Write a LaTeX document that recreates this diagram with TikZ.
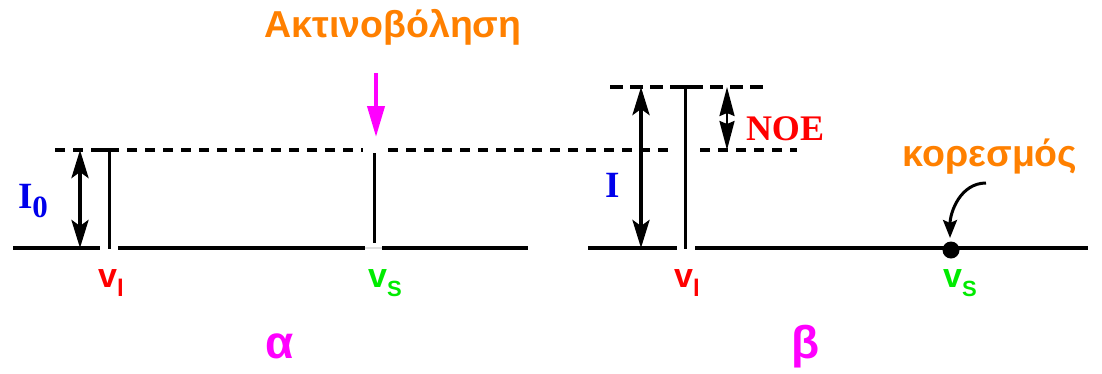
\documentclass[tikz,border=0pt]{standalone}
\usepackage{fontspec}
\setmainfont{Liberation Serif}
\newfontfamily\sansf{Liberation Sans}
\usetikzlibrary{arrows.meta}
\definecolor{myorange}{RGB}{255,128,0}
\definecolor{mymag}{RGB}{255,0,255}
\definecolor{mygreen}{RGB}{0,235,0}
\definecolor{myred}{RGB}{255,0,0}
\definecolor{myblue}{RGB}{0,0,235}
\newcommand{\fsz}[1]{\fontsize{#1}{#1}\selectfont}
\begin{document}
\begin{tikzpicture}[x=1pt,y=-1pt,
  baseln/.style={line width=3.6pt},
  stemln/.style={line width=3pt},
  dashln/.style={line width=3.8pt, dash pattern=on 10pt off 8pt},
  dashup/.style={line width=3.8pt, dash pattern=on 13pt off 7pt},
  bigarrow/.style={line width=4pt, {Stealth[length=28pt,width=17pt,inset=6pt]}-{Stealth[length=28pt,width=17pt,inset=6pt]}},
  noearrow/.style={line width=2.5pt, {Stealth[length=29pt,width=15pt,inset=3pt]}-{Stealth[length=29pt,width=15pt,inset=3pt]}},
  lbl/.style={inner sep=0pt, anchor=base},
  vlab/.style={lbl, font=\sansf\bfseries\fsz{34}},
  greek/.style={lbl, font=\sansf\bfseries\fsz{37.5}, text=myorange}
]
\useasboundingbox (0,0) rectangle (1102,373);

% ---------- part alpha ----------
\coordinate (aL) at (13,248);
\coordinate (a1) at (100,248);
\coordinate (a2) at (118,248);
\coordinate (a3) at (365,248);
\coordinate (a4) at (382,248);
\coordinate (aR) at (528,248);
\draw[baseln] (aL) -- (a1);
\draw[baseln] (a2) -- (a3);
\draw[baseln] (a4) -- (aR);
\draw[line width=1.5pt, gray!25] (a3) -- (a4);

% dashed level I0
\coordinate (d0) at (55,150);
\coordinate (d1) at (363,150);
\coordinate (d2) at (388,150);
\coordinate (d3) at (673,150);
\coordinate (d4) at (700,150);
\coordinate (d5) at (797,150);
\draw[dashln] (d0) -- (d1);
\draw[dashln] (d2) -- (d3);
\draw[dashln] (d4) -- (d5);

% stem nu_l (alpha)
\coordinate (lt) at (109,150);
\coordinate (lb) at (109,249);
\coordinate (lt1) at (98,150);
\coordinate (lt2) at (118,150);
\draw[stemln] (lt) -- (lb);
\draw[baseln] (lt1) -- (lt2);

% stem nu_s (alpha)
\coordinate (st) at (374,153);
\coordinate (sb) at (374,243);
\draw[stemln] (st) -- (sb);

% I0 arrow
\coordinate (i0t) at (80,150);
\coordinate (i0b) at (80,248);
\draw[bigarrow] (i0t) -- (i0b);
\node[lbl, text=myblue, font=\bfseries\fsz{37}] (I0) at (33,208) {I\raisebox{-9pt}{\fsz{31}0}};

% irradiation arrow
\node[greek] (rad) at (393,37) {Ακτινοβόληση};
\coordinate (ra) at (376,73);
\coordinate (rb) at (376,137);
\draw[line width=4pt, mymag, -{Triangle[length=31pt,width=17pt]}] (ra) -- (rb);

\node[vlab, text=myred] (nl1) at (111,287) {v\raisebox{-9pt}{\fsz{24}l}};
\node[vlab, text=mygreen] (ns1) at (385,287) {v\raisebox{-9pt}{\fsz{22}S}};
\node[lbl, font=\sansf\bfseries\fsz{46}, text=mymag] (alpha) at (280,358) {α};

% ---------- part beta ----------
\coordinate (bL) at (588,248);
\coordinate (b1) at (677,248);
\coordinate (b2) at (695,248);
\coordinate (bR) at (1088,248);
\draw[baseln] (bL) -- (b1);
\draw[baseln] (b2) -- (bR);

% upper dashed level
\coordinate (u0) at (610,87);
\coordinate (u1) at (770,87);
\draw[dashup] (u0) -- (u1);

% stem nu_l (beta)
\coordinate (mt) at (685,87);
\coordinate (mb) at (685,249);
\coordinate (mt1) at (673,87);
\coordinate (mt2) at (697,87);
\draw[stemln] (mt) -- (mb);
\draw[baseln] (mt1) -- (mt2);

% I arrow
\coordinate (it) at (641,87);
\coordinate (ib) at (641,248);
\draw[bigarrow] (it) -- (ib);
\node[lbl, text=myblue, font=\bfseries\fsz{37}] (I) at (613,197) {I};

% NOE arrow
\coordinate (nt) at (727,87);
\coordinate (nb) at (727,150);
\draw[noearrow] (nt) -- (nb);
\node[lbl, text=myred, font=\bfseries\fsz{36}] (NOE) at (785,140) {NOE};

% saturation
\node[circle, fill=black, inner sep=0pt, minimum size=17pt] (dot) at (951,250) {};
\node[greek] (sat) at (990,166) {κορεσμός};
\coordinate (ca) at (986,183);
\coordinate (cb) at (950,238);
\draw[line width=3pt, -{Stealth[length=18pt,width=14pt,inset=3pt]}] (ca) to[out=180, in=90] (cb);

\node[vlab, text=myred] (nl2) at (687,287) {v\raisebox{-9pt}{\fsz{24}l}};
\node[vlab, text=mygreen] (ns2) at (960,287) {v\raisebox{-9pt}{\fsz{22}S}};
\node[lbl, font=\sansf\bfseries\fsz{46}, text=mymag] (beta) at (806,358) {β};
\end{tikzpicture}
\end{document}
